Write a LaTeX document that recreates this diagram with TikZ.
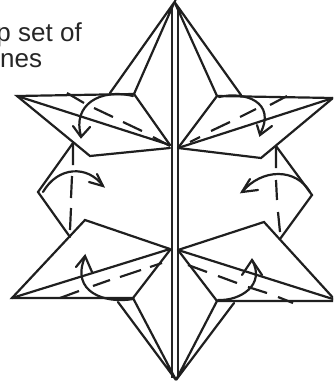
\documentclass[tikz,border=0pt]{standalone}
\usepackage{fontspec}
\setmainfont{Liberation Sans}
\tikzset{
  fold/.style={line width=2.2pt,draw=black!88,line join=miter,line cap=round},
  crease/.style={line width=2.2pt,draw=black!88,line cap=butt},
  spine/.style={line width=2.2pt,draw=black!85},
  caption/.style={anchor=base west,inner sep=0pt,font=\fontsize{26}{27}\selectfont,text=black!85}
}
\begin{document}
\begin{tikzpicture}[x=1pt,y=-1pt]
\useasboundingbox (0,0) rectangle (333,383);
\clip (0,0) rectangle (333,383);
\node[caption] (t1) at (-3.7,41) {p set of};
\node[caption] (t2) at (0,67.5) {nes};
% spine and spikes
\draw[spine] (172.3,8) -- (172.3,378);
\draw[spine] (177.7,8) -- (177.7,378);
\draw[fold] (110,93) -- (174.5,2) -- (134,94);
\draw[fold] (217,96) -- (174.5,2) -- (241,95);
\draw[fold] (118,302) -- (176,380) -- (133,298);
\draw[fold] (217,301) -- (176,380) -- (234,303);
% upper left flap
\draw[fold] (170,145) -- (134,94) -- (17,96) -- (90,156) -- (170,148);
\draw[fold] (17,96) -- (170,145);
\draw[crease] (67,93) -- (84,103) (94,108) -- (113,117) (123,122) -- (142,131) (153,137) -- (170,146);
\draw[fold] (133,96) .. controls (100,88) and (72,105) .. (81,136);
\draw[fold] (73,126) -- (81,137) -- (90,127);
% upper right flap
\draw[fold] (178,148) -- (217,96) -- (333,98) -- (261,158) -- (178,148);
\draw[fold] (333,98) -- (178,148);
\draw[crease] (190,142) -- (200,137) (211,131) -- (230,122) (240,117) -- (256,109) (270,105) -- (287,96);
\draw[fold] (219,97) .. controls (245,91) and (277,102) .. (260,134);
\draw[fold] (257,125) -- (260,135) -- (272,126);
% left panel
\draw[fold] (73,143) -- (38,192) -- (70,237);
\draw[crease] (73,143) -- (73,165) (72,176) -- (71,198) (71,208) -- (70,230);
\draw[fold] (43,192) .. controls (58,166) and (88,165) .. (103,186);
\draw[fold] (89,182) -- (103,186) -- (97,174);
% right panel
\draw[fold] (276,146) -- (312,195) -- (280,239);
\draw[crease] (276,146) -- (276,168) (276,180) -- (277,200) (278,212) -- (280,232);
\draw[fold] (310,192) .. controls (296,168) and (262,168) .. (242,192);
\draw[fold] (250,179) -- (242,192) -- (258,190);
% lower left flap
\draw[fold] (170,249) -- (85,220) -- (12,298) -- (133,298) -- (170,250);
\draw[fold] (12,298) -- (170,249);
\draw[crease] (60,298) -- (79,291) (93,286) -- (110,280) (120,277) -- (141,270) (150,267) -- (162,263);
\draw[fold] (133,299) .. controls (105,304) and (70,292) .. (85,257);
\draw[fold] (76,267) -- (85,256) -- (92,272);
% lower right flap
\draw[fold] (178,250) -- (264,222) -- (336,301) -- (217,301) -- (178,250);
\draw[fold] (178,250) -- (336,300);
\draw[crease] (188,265) -- (207,272) (218,276) -- (237,283) (248,287) -- (267,293) (278,297) -- (293,303);
\draw[fold] (218,300) .. controls (240,301) and (266,285) .. (252,260);
\draw[fold] (242,275) -- (252,260) -- (262,275);
\end{tikzpicture}
\end{document}
